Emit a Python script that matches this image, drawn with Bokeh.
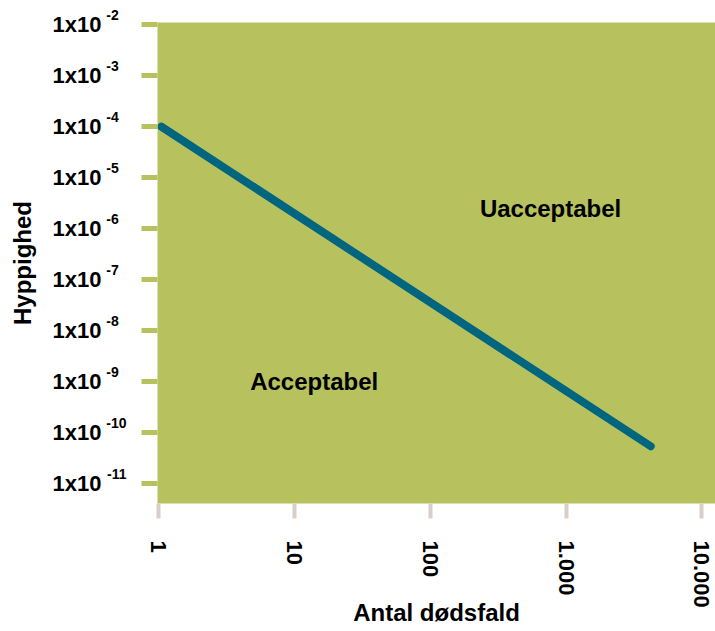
import math
from bokeh.plotting import figure
from bokeh.models import FixedTicker, Range1d, LogAxis
from bokeh.core.properties import value
from bokeh.embed import file_html
from bokeh.resources import INLINE

# ---- data ----
deaths = [1.05, 4200]            # Antal dødsfald
frequency = [1e-4, 5.4e-11]      # Hyppighed

x_ticks = [1, 10, 100, 1000, 10000]
x_tick_labels = ["1", "10", "100", "1.000", "10.000"]

y_exponents = [-2, -3, -4, -5, -6, -7, -8, -9, -10, -11]
y_ticks = [float(f"1e{k}") for k in y_exponents]
y_tick_base = "1x10"
y_tick_sup = [str(k) for k in y_exponents]

region_labels = ["Uacceptabel", "Acceptabel"]
region_x = [770, 14]
region_y = [2.5e-6, 1e-9]

x_title = "Antal dødsfald"
y_title = "Hyppighed"

x_limits = (0.984, 12600)
y_limits = (4.07e-12, 1.1e-2)

# ---- styles ----
FONT = "Liberation Sans"
GREEN = "#b7c25e"
BLUE = "#00657e"
XTICK = "#d8d0c8"


def sup_text(s):
    # figure spaces keep exponents snug against "1x10"; blank 2nd line lifts them
    return s + "\u2007" * (3 - len(s)) + "\n\u00a0"


p = figure(width=715, height=631,
           x_axis_type="log", y_axis_type="log",
           x_range=Range1d(*x_limits), y_range=Range1d(*y_limits),
           output_backend="svg", toolbar_location=None,
           min_border_left=157, min_border_right=0,
           min_border_top=22, min_border_bottom=128)

p.background_fill_color = GREEN
p.border_fill_color = "white"
p.outline_line_color = None
p.grid.visible = False

# x axis
xa = p.xaxis[0]
xa.ticker = FixedTicker(ticks=x_ticks, minor_ticks=[])
xa.major_label_overrides = {t: lab for t, lab in zip(x_ticks, x_tick_labels)}
xa.axis_line_color = None
xa.major_tick_line_color = XTICK
xa.major_tick_line_width = 4
xa.major_tick_out = 15
xa.major_tick_in = 0
xa.minor_tick_line_color = None
xa.major_label_text_font = FONT
xa.major_label_text_font_style = "bold"
xa.major_label_text_font_size = "22px"
xa.major_label_text_color = "black"
xa.major_label_orientation = -math.pi / 2
xa.major_label_standoff = 22
xa.axis_label = x_title
xa.axis_label_text_font = FONT
xa.axis_label_text_font_style = "bold"
xa.axis_label_text_font_size = "24px"
xa.axis_label_text_color = "black"
xa.axis_label_standoff = -12

# y axis 1 (next to the frame): green ticks only
ya = p.yaxis[0]
ya.ticker = FixedTicker(ticks=y_ticks, minor_ticks=[])
ya.major_label_overrides = {t: "" for t in y_ticks}
ya.axis_line_color = None
ya.major_tick_line_color = GREEN
ya.major_tick_line_width = 5
ya.major_tick_out = 16
ya.major_tick_in = 0
ya.minor_tick_line_color = None
ya.major_label_standoff = 0

# y axis 2: superscript exponents
ya_sup = LogAxis(ticker=FixedTicker(ticks=y_ticks, minor_ticks=[]),
                 major_label_overrides={t: sup_text(s) for t, s in zip(y_ticks, y_tick_sup)})
ya_sup.axis_line_color = None
ya_sup.major_tick_line_color = None
ya_sup.major_tick_out = 0
ya_sup.major_tick_in = 0
ya_sup.minor_tick_line_color = None
ya_sup.major_label_text_font = FONT
ya_sup.major_label_text_font_style = "bold"
ya_sup.major_label_text_font_size = "14px"
ya_sup.major_label_text_color = "black"
ya_sup.major_label_standoff = 15
p.add_layout(ya_sup, "left")

# y axis 3: "1x10" bases and the axis title
ya_base = LogAxis(ticker=FixedTicker(ticks=y_ticks, minor_ticks=[]),
                  major_label_overrides={t: y_tick_base for t in y_ticks})
ya_base.axis_line_color = None
ya_base.major_tick_line_color = None
ya_base.major_tick_out = 0
ya_base.major_tick_in = 0
ya_base.minor_tick_line_color = None
ya_base.major_label_text_font = FONT
ya_base.major_label_text_font_style = "bold"
ya_base.major_label_text_font_size = "22px"
ya_base.major_label_text_color = "black"
ya_base.major_label_standoff = 2
ya_base.axis_label = y_title
ya_base.axis_label_text_font = FONT
ya_base.axis_label_text_font_style = "bold"
ya_base.axis_label_text_font_size = "24px"
ya_base.axis_label_text_color = "black"
ya_base.axis_label_standoff = 14
p.add_layout(ya_base, "left")

# line
p.line(deaths, frequency, line_width=8, line_color=BLUE, line_cap="round")

# region labels
p.text(x=region_x, y=region_y, text=region_labels,
       text_font=value(FONT), text_font_style="bold", text_font_size="24px",
       text_align="center", text_baseline="middle", text_color="black")

open("out.html", "w").write(file_html(p, INLINE))
